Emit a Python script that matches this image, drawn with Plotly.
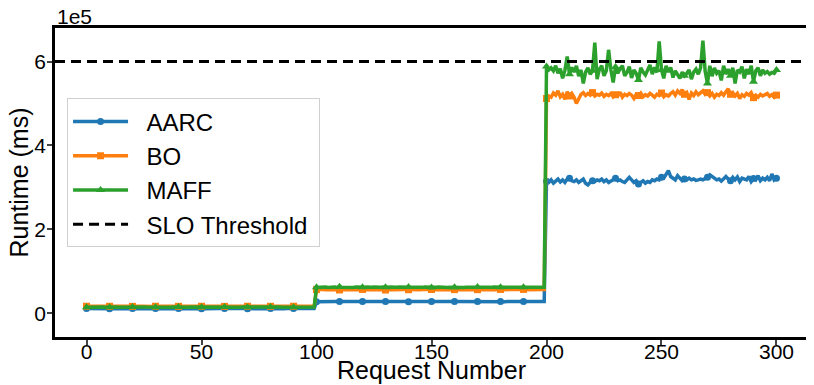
import plotly.graph_objects as go

# runtimes per request, in thousands of ms
request_no = list(range(301))

aarc_k = [
    11.2, 11.0, 11.4, 10.9, 11.3, 11.1, 11.5, 11.0, 11.2, 11.3,
    11.1, 11.4, 10.8, 11.2, 11.0, 11.3, 11.5, 11.1, 10.9, 11.2,
    11.3, 11.0, 11.2, 11.4, 11.1, 10.9, 11.3, 11.2, 11.0, 11.4,
    11.2, 11.1, 11.3, 10.9, 11.2, 11.5, 11.0, 11.3, 11.1, 11.2,
    11.4, 11.0, 11.2, 11.1, 11.3, 10.9, 11.2, 11.4, 11.0, 11.3,
    11.1, 11.2, 11.0, 11.4, 11.2, 11.1, 10.9, 11.3, 11.2, 11.0,
    11.3, 11.1, 11.4, 11.0, 11.2, 11.3, 11.1, 10.9, 11.2, 11.4,
    11.0, 11.2, 11.3, 11.1, 11.0, 11.4, 11.2, 10.9, 11.3, 11.1,
    11.2, 11.0, 11.3, 11.2, 11.4, 11.1, 11.0, 11.2, 11.3, 10.9,
    11.2, 11.4, 11.1, 11.0, 11.3, 11.2, 11.1, 11.4, 11.0, 11.2,
    27.8, 28.1, 27.9, 28.2, 28.0, 27.7, 28.1, 27.9, 28.3, 28.0,
    27.9, 28.2, 28.0, 27.8, 28.1, 28.0, 27.9, 28.2, 28.1, 27.8,
    28.0, 28.3, 27.9, 28.1, 28.0, 27.8, 28.2, 28.0, 27.9, 28.1,
    28.0, 27.9, 28.2, 28.1, 27.8, 28.0, 28.2, 27.9, 28.1, 28.0,
    27.8, 28.1, 28.0, 28.2, 27.9, 28.0, 28.1, 27.8, 28.2, 28.0,
    28.1, 27.9, 28.0, 28.2, 27.8, 28.1, 28.0, 27.9, 28.2, 28.0,
    27.9, 28.1, 28.0, 27.8, 28.2, 28.1, 27.9, 28.0, 28.2, 27.9,
    28.0, 28.1, 27.8, 28.0, 28.2, 27.9, 28.1, 28.0, 27.9, 28.2,
    28.1, 28.0, 27.8, 28.1, 28.0, 28.2, 27.9, 28.0, 28.1, 27.9,
    28.0, 28.2, 28.0, 27.9, 28.1, 28.0, 27.8, 28.1, 28.0, 28.0,
    315, 312, 318, 310, 315, 320, 313, 318, 312, 320,
    322, 316, 314, 318, 312, 316, 320, 310, 306, 312,
    316, 314, 318, 316, 320, 314, 318, 312, 316, 320,
    322, 316, 318, 314, 312, 318, 324, 318, 312, 316,
    308, 312, 316, 310, 314, 312, 318, 316, 320, 318,
    324, 322, 330, 340, 326, 322, 318, 328, 322, 316,
    320, 318, 322, 318, 320, 317, 318, 320, 318, 320,
    324, 330, 327, 322, 318, 320, 315, 322, 326, 320,
    316, 324, 318, 325, 314, 322, 320, 318, 326, 314,
    321, 318, 328, 316, 322, 318, 324, 316, 332, 318,
    322,
]

bo_k = [
    16.8, 16.5, 16.9, 16.6, 16.7, 16.4, 16.8, 16.6, 16.9, 16.5,
    16.7, 16.6, 16.8, 16.5, 16.9, 16.7, 16.4, 16.8, 16.6, 16.7,
    16.5, 16.8, 16.7, 16.6, 16.9, 16.5, 16.7, 16.8, 16.6, 16.4,
    16.8, 16.6, 16.7, 16.9, 16.5, 16.7, 16.6, 16.8, 16.5, 16.7,
    16.6, 16.9, 16.7, 16.5, 16.8, 16.6, 16.7, 16.4, 16.8, 16.6,
    16.7, 16.5, 16.8, 16.7, 16.6, 16.9, 16.5, 16.7, 16.8, 16.6,
    16.5, 16.8, 16.6, 16.7, 16.9, 16.6, 16.4, 16.8, 16.7, 16.5,
    16.8, 16.6, 16.7, 16.5, 16.9, 16.7, 16.6, 16.8, 16.5, 16.7,
    16.6, 16.8, 16.7, 16.5, 16.9, 16.6, 16.7, 16.8, 16.5, 16.6,
    16.8, 16.7, 16.5, 16.9, 16.6, 16.7, 16.8, 16.6, 16.5, 16.7,
    56.5, 57.0, 56.3, 56.8, 55.9, 56.6, 57.1, 56.2, 56.7, 56.4,
    55.6, 56.8, 56.3, 57.0, 56.5, 56.1, 56.9, 56.4, 56.7, 56.2,
    56.8, 56.3, 57.0, 56.6, 56.1, 56.8, 56.4, 56.9, 56.2, 56.7,
    55.5, 56.6, 56.9, 56.3, 56.8, 56.1, 56.7, 56.4, 57.0, 56.5,
    56.2, 56.8, 56.5, 56.0, 56.9, 56.4, 56.7, 56.2, 56.8, 56.5,
    56.7, 56.3, 56.9, 56.5, 56.1, 56.8, 56.4, 56.6, 56.2, 56.9,
    56.4, 56.8, 56.2, 56.7, 56.5, 56.9, 56.3, 56.7, 56.4, 56.8,
    56.3, 56.7, 56.5, 56.9, 56.2, 56.6, 56.8, 56.3, 56.7, 56.5,
    56.8, 56.3, 56.6, 56.9, 56.2, 56.7, 56.5, 56.8, 56.3, 56.6,
    56.9, 56.4, 56.7, 56.3, 56.8, 56.5, 56.2, 56.7, 56.5, 56.6,
    512, 518, 515, 525, 520, 530, 516, 522, 510, 528,
    518, 524, 515, 500, 512, 522, 526, 519, 524, 520,
    526, 518, 522, 520, 525, 517, 522, 519, 524, 516,
    521, 518, 527, 515, 522, 519, 524, 520, 512, 522,
    519, 525, 516, 521, 518, 524, 520, 515, 522, 519,
    525, 516, 521, 518, 524, 528, 520, 530, 524, 533,
    522, 526, 510, 525, 519, 528, 521, 526, 530, 522,
    526, 518, 524, 515, 522, 519, 526, 520, 528, 535,
    522, 526, 518, 524, 512, 521, 517, 524, 520, 526,
    514, 520, 515, 522, 518, 520, 524, 517, 521, 515,
    520,
]

maff_k = [
    14.6, 14.9, 14.5, 14.8, 14.7, 15.0, 14.6, 14.8, 14.5, 14.9,
    14.7, 14.6, 14.9, 14.8, 14.5, 14.7, 15.0, 14.6, 14.8, 14.7,
    14.9, 14.5, 14.8, 14.6, 14.7, 15.0, 14.8, 14.6, 14.9, 14.7,
    14.5, 14.8, 14.7, 14.9, 14.6, 14.8, 14.5, 14.7, 15.0, 14.6,
    14.8, 14.7, 14.5, 14.9, 14.6, 14.8, 14.7, 15.0, 14.6, 14.8,
    14.7, 14.9, 14.6, 14.8, 14.5, 14.7, 14.9, 14.6, 14.8, 14.7,
    15.0, 14.6, 14.8, 14.7, 14.5, 14.9, 14.7, 14.6, 14.8, 14.9,
    14.6, 14.8, 14.5, 14.7, 14.9, 14.6, 14.8, 14.7, 15.0, 14.6,
    14.8, 14.7, 14.9, 14.5, 14.8, 14.6, 14.7, 14.9, 14.6, 14.8,
    14.7, 14.5, 14.9, 14.7, 14.6, 14.8, 15.0, 14.7, 14.6, 14.8,
    61.8, 62.3, 61.5, 62.0, 62.6, 61.7, 62.2, 61.9, 62.4, 61.6,
    63.0, 62.1, 61.8, 62.5, 61.9, 62.2, 61.6, 62.4, 62.0, 61.7,
    62.3, 61.9, 62.6, 61.8, 62.1, 62.4, 61.7, 62.2, 61.9, 62.5,
    61.8, 62.1, 62.6, 61.7, 62.3, 61.9, 62.4, 62.0, 61.6, 62.2,
    62.8, 61.9, 62.3, 61.7, 62.2, 62.0, 61.8, 62.4, 61.9, 62.2,
    61.6, 62.3, 61.9, 62.5, 61.8, 62.1, 62.4, 61.7, 62.2, 61.9,
    62.3, 61.8, 62.5, 62.0, 61.7, 62.2, 61.9, 62.4, 61.8, 62.1,
    62.4, 61.9, 62.2, 61.7, 62.3, 62.0, 61.8, 62.4, 61.9, 62.2,
    61.8, 62.3, 61.9, 62.2, 62.5, 61.8, 62.1, 61.9, 62.3, 62.0,
    61.9, 62.2, 61.8, 62.4, 62.0, 61.7, 62.3, 61.9, 62.1, 62.0,
    588, 580, 585, 578, 590, 572, 583, 560, 579, 612,
    570, 586, 575, 590, 565, 580, 548, 575, 585, 570,
    578, 645, 558, 582, 590, 566, 578, 628, 580, 550,
    587, 572, 583, 590, 566, 574, 588, 561, 580, 572,
    556, 585, 575, 568, 580, 592, 570, 586, 574, 648,
    580, 560, 590, 575, 586, 562, 578, 570, 560, 575,
    566, 572, 580, 558, 575, 582, 570, 585, 650, 576,
    548, 590, 565, 585, 572, 578, 555, 590, 570, 582,
    566, 585, 548, 580, 575, 588, 560, 582, 570, 590,
    552, 578, 585, 566, 580, 572, 576, 570, 574, 572,
    580,
]

slo_ms = 600000
x_range = [-13.7, 313.7]
x_ticks = [0, 50, 100, 150, 200, 250, 300]
y_ticks = [0, 200000, 400000, 600000]
y_tick_text = ["0", "2", "4", "6"]

series = [
    ("AARC", aarc_k, "#1f77b4", "circle", 7),
    ("BO", bo_k, "#ff7f0e", "square", 7),
    ("MAFF", maff_k, "#2ca02c", "triangle-up", 8),
]

fig = go.Figure()
for name, vals, color, sym, msize in series:
    ys = [v * 1000 for v in vals]
    fig.add_trace(go.Scatter(x=request_no, y=ys, mode="lines", showlegend=False,
                             line=dict(color=color, width=3.5)))
    # markers every 10th request, like markevery=10
    fig.add_trace(go.Scatter(x=request_no[::10], y=ys[::10], mode="markers", showlegend=False,
                             marker=dict(color=color, symbol=sym, size=msize)))

# legend entries (nbsp for a wider gap between handle and label)
pad = "\u00a0\u00a0"
for name, vals, color, sym, msize in series:
    fig.add_trace(go.Scatter(x=[None], y=[None], mode="lines+markers", name=pad + name,
                             line=dict(color=color, width=3.5),
                             marker=dict(color=color, symbol=sym, size=msize)))

fig.add_trace(go.Scatter(x=x_range, y=[slo_ms, slo_ms], mode="lines",
                         name=pad + "SLO Threshold" + "\u00a0",
                         line=dict(color="black", width=3, dash="10px,6px")))

font_family = "Liberation Sans, Arial, Helvetica, sans-serif"

# page body has an 8px margin, so the figure is 8px smaller than the window
fig.update_layout(
    width=806, height=377,
    margin=dict(l=47, r=6, t=20, b=48),
    plot_bgcolor="white", paper_bgcolor="white",
    font=dict(family=font_family, size=21, color="black"),
    legend=dict(x=0.016, y=0.772, xanchor="left", yanchor="top",
                bordercolor="#d0d0d0", borderwidth=1, bgcolor="rgba(255,255,255,0.8)",
                font=dict(size=24), itemwidth=55, tracegroupgap=0),
    annotations=[
        dict(text="1e5", x=0, y=1, xref="paper", yref="paper",
             xanchor="left", yanchor="bottom", showarrow=False, yshift=-2,
             font=dict(size=21)),
        dict(text="Request Number", x=0.5, y=0, xref="paper", yref="paper",
             xanchor="center", yanchor="middle", showarrow=False, yshift=-33,
             borderpad=0, font=dict(size=25)),
        dict(text="Runtime (ms)", x=0, y=0.5, xref="paper", yref="paper",
             xanchor="center", yanchor="middle", showarrow=False, xshift=-37,
             textangle=-90, font=dict(size=25)),
    ],
)
fig.update_xaxes(range=x_range, tickvals=x_ticks, automargin=False, ticklabelstandoff=-11,
                 showline=True, linecolor="black", linewidth=2.5, mirror=True,
                 ticks="outside", ticklen=5, tickwidth=2, showgrid=False, zeroline=False)
fig.update_yaxes(range=[-56500, 680000], tickvals=y_ticks, ticktext=y_tick_text, automargin=False,
                 ticklabelstandoff=-3,
                 showline=True, linecolor="black", linewidth=2.5, mirror=True,
                 ticks="outside", ticklen=5, tickwidth=2, showgrid=False, zeroline=False)

fig.write_html("out.html")
